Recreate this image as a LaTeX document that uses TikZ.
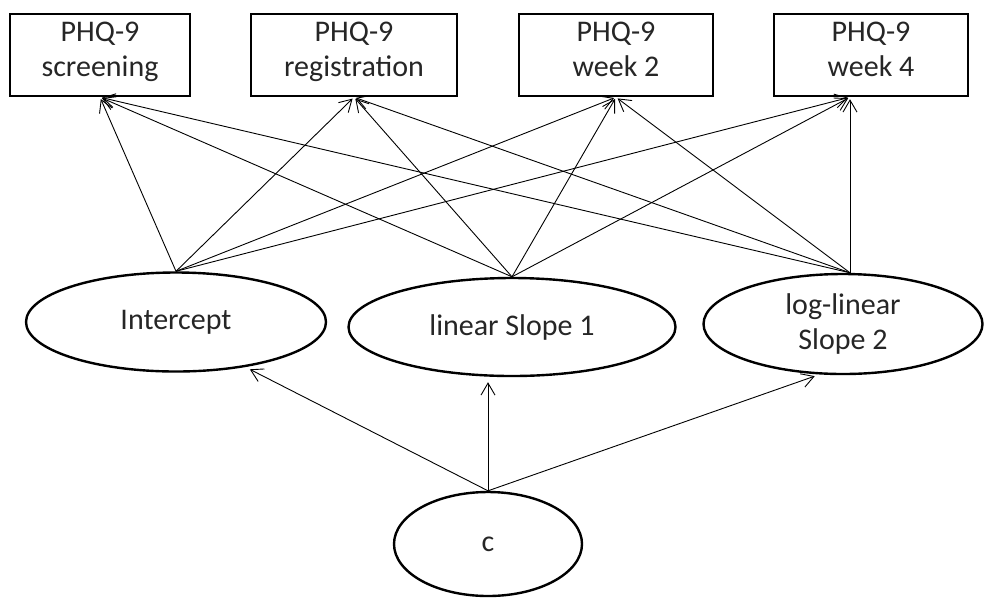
\documentclass[tikz,border=0pt]{standalone}
\usepackage{fontspec}
\setmainfont{Carlito}
\usetikzlibrary{positioning,shapes.geometric,arrows.meta}
\tikzset{
  every node/.style={font=\fontsize{30}{35}\selectfont, text=black!85},
  % --- nodes
  obs/.style = {rectangle, draw=black, line width=2.4pt, align=center,
                minimum height=82pt, inner sep=0pt,
                execute at begin node=\rule{0pt}{34pt}, execute at end node=\strut},
  lat/.style = {ellipse, draw=black, line width=2.4pt, align=center, inner sep=0pt},
  % --- edges
  e/.style   = {-{Straight Barb[length=12pt,width=14pt]}, line width=0.9pt,
                shorten >=2pt},
  ec/.style  = {e, shorten >=5pt},
}
\begin{document}
\begin{tikzpicture}[x=1pt,y=-1pt]
  \useasboundingbox (0,0) rectangle (984,598);

  \node[obs, minimum width=180pt] (scr) at (100,55) {PHQ-9\\screening};
  \node[obs, minimum width=206pt] (reg) at (354,55) {PHQ-9\\registration};
  \node[obs, minimum width=194pt] (wk2) at (616,55) {PHQ-9\\week 2};
  \node[obs, minimum width=194pt] (wk4) at (871,55) {PHQ-9\\week 4};

  \node[lat, minimum width=300pt, minimum height=99pt]  (icpt) at (176,322) {Intercept};
  \node[lat, minimum width=327pt, minimum height=98pt]  (slp1) at (512,327) {linear Slope 1};
  \node[lat, minimum width=279pt, minimum height=100pt] (slp2) at (843,324) {log-linear\\Slope 2};
  \node[lat, minimum width=188pt, minimum height=104pt] (cls)  at (488,544) {c};

  \coordinate (slp2top) at ([xshift=7pt]slp2.north);
  \coordinate (wk4in)   at ([xshift=-21pt]wk4.south);

  \draw[e] (icpt.north) -- (scr.south);
  \draw[e] (icpt.north) -- (reg.south);
  \draw[e] (icpt.north) -- (wk2.south);
  \draw[e] (icpt.north) -- (wk4in);
  \draw[e] (slp1.north) -- (scr.south);
  \draw[e] (slp1.north) -- (reg.south);
  \draw[e] (slp1.north) -- (wk2.south);
  \draw[e] (slp1.north) -- (wk4in);
  \draw[e] (slp2top) -- (scr.south);
  \draw[e] (slp2top) -- (reg.south);
  \draw[e] (slp2top) -- (wk2.south);
  \draw[e] (slp2top) -- (wk4in);

  \draw[ec] (cls.north) -- (icpt.327);
  \draw[ec] (cls.north) -- (cls.north |- slp1.south);
  \draw[ec] (cls.north) -- (slp2.245);
\end{tikzpicture}
\end{document}
